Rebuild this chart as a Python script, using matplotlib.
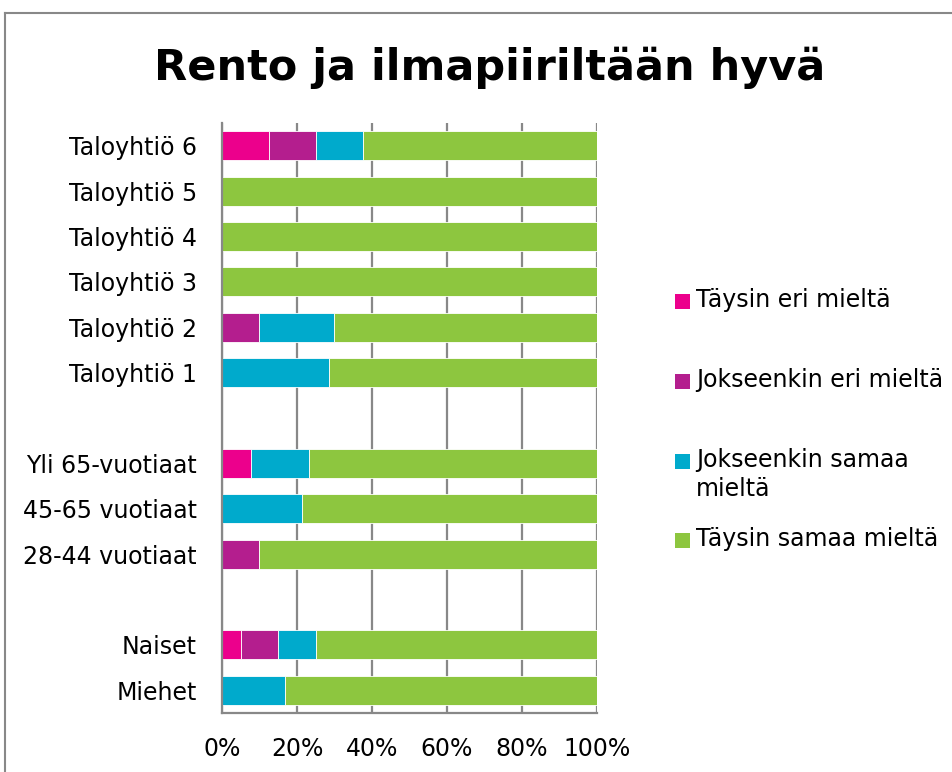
import matplotlib.pyplot as plt
from matplotlib.lines import Line2D
from matplotlib.patches import Rectangle

# categories top to bottom ('' = empty gap rows)
categories = ['Taloyhtiö 6', 'Taloyhtiö 5', 'Taloyhtiö 4', 'Taloyhtiö 3',
              'Taloyhtiö 2', 'Taloyhtiö 1', '', 'Yli 65-vuotiaat',
              '45-65 vuotiaat', '28-44 vuotiaat', '', 'Naiset', 'Miehet']

series_names = ['Täysin eri mieltä', 'Jokseenkin eri mieltä',
                'Jokseenkin samaa\nmieltä', 'Täysin samaa mieltä']
colors = ['#EC008C', '#B41E8E', '#00AACC', '#8DC63F']

taysin_eri = [12.5, 0, 0, 0, 0, 0, 0, 7.7, 0, 0, 0, 5.0, 0]
jokseenkin_eri = [12.5, 0, 0, 0, 10.0, 0, 0, 0, 0, 10.0, 0, 10.0, 0]
jokseenkin_samaa = [12.5, 0, 0, 0, 20.0, 28.6, 0, 15.4, 21.4, 0, 0, 10.0, 16.7]
taysin_samaa = [62.5, 100, 100, 100, 70.0, 71.4, 0, 76.9, 78.6, 90.0, 0, 75.0, 83.3]

series = [taysin_eri, jokseenkin_eri, jokseenkin_samaa, taysin_samaa]

W, H = 953, 772
fig = plt.figure(figsize=(W / 100, H / 100), dpi=100)
ax = fig.add_axes([222 / W, 1 - 713 / H, 375 / W, (713 - 123) / H])

y = list(range(len(categories)))
left = [0] * len(categories)
for vals, col in zip(series, colors):
    idx = [i for i, v in enumerate(vals) if v > 0]
    ax.barh([y[i] for i in idx], [vals[i] for i in idx],
            left=[left[i] for i in idx], height=0.64, color=col,
            edgecolor='white', linewidth=0.6, zorder=3)
    left = [l + v for l, v in zip(left, vals)]

ax.set_ylim(len(categories) - 0.5, -0.5)
ax.set_xlim(0, 100)
ax.set_xticks([0, 20, 40, 60, 80, 100])
ax.set_xticklabels(['0%', '20%', '40%', '60%', '80%', '100%'], fontsize=17)
ax.set_yticks(y)
ax.set_yticklabels(categories, fontsize=17)
ax.tick_params(axis='both', length=0)
ax.tick_params(axis='y', pad=18)
ax.tick_params(axis='x', pad=17)
ax.xaxis.grid(True, color='#888888', linewidth=1.6, zorder=0)
for s in ['top', 'right']:
    ax.spines[s].set_visible(False)
for s in ['left', 'bottom']:
    ax.spines[s].set_color('#888888')
    ax.spines[s].set_linewidth(1.6)
    ax.spines[s].set_zorder(4)

fig.text(490 / W, 1 - 68 / H, 'Rento ja ilmapiiriltään hyvä',
         fontsize=31, fontweight='bold', ha='center', va='center')

# legend drawn by hand to match the uneven spacing of the original
legend_y = [301, 381, 461, 540]
for name, col, ly in zip(series_names, colors, legend_y):
    fig.add_artist(Rectangle((675 / W, 1 - (ly + 7.5) / H), 15 / W, 15 / H,
                             facecolor=col, edgecolor='none',
                             transform=fig.transFigure))
    fig.text(696 / W, 1 - (ly - 13) / H, name, fontsize=17, ha='left',
             va='top', linespacing=1.25)

# outer chart border
fig.add_artist(Line2D([5 / W, 5 / W], [0, 1 - 13 / H], color='#888888',
                      linewidth=1.5, transform=fig.transFigure))
fig.add_artist(Line2D([5 / W, 1], [1 - 13 / H, 1 - 13 / H], color='#888888',
                      linewidth=1.5, transform=fig.transFigure))

fig.savefig('out.png', dpi=100)
